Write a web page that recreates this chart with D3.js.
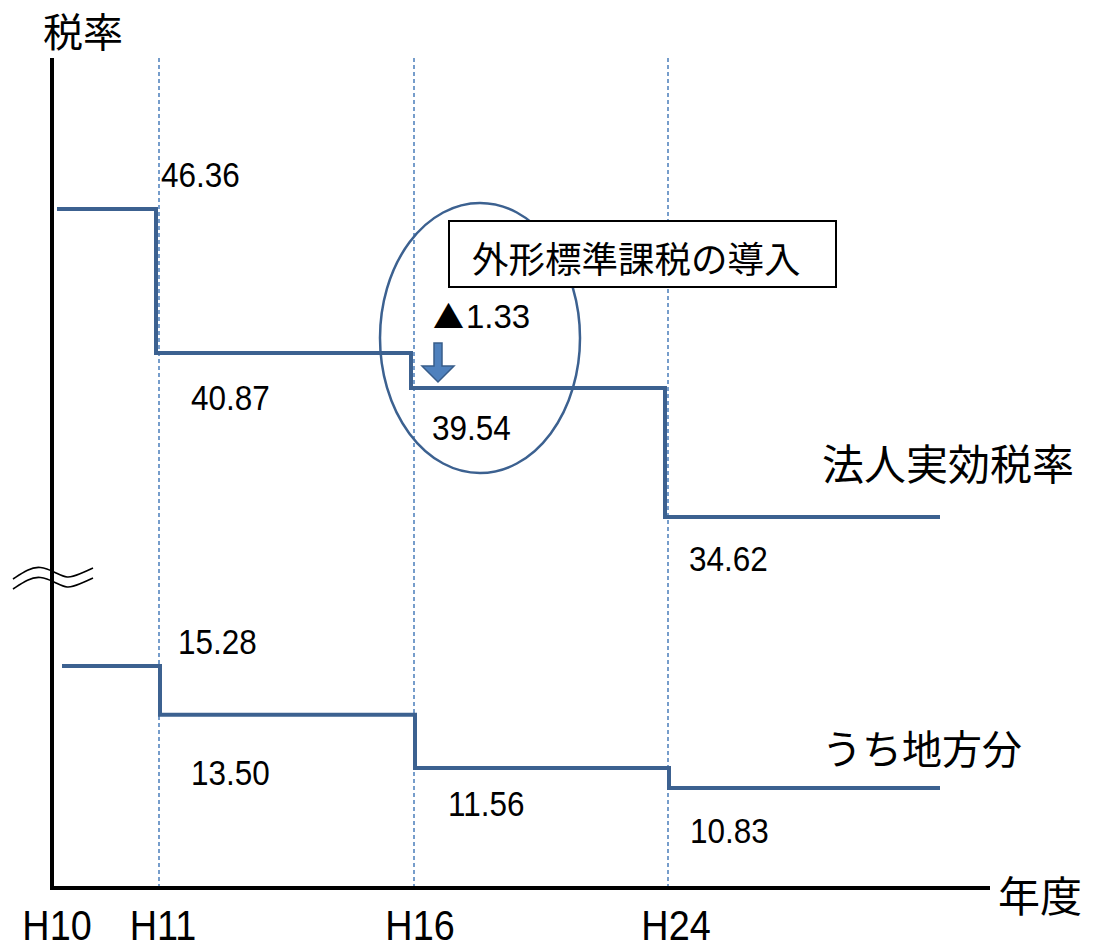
<!DOCTYPE html>
<html lang="ja">
<head>
<meta charset="utf-8">
<script src="https://d3js.org/d3.v7.min.js"></script>
<style>
  html, body { margin: 0; padding: 0; background: #fff; }
  svg { display: block; }
</style>
</head>
<body>
<svg id="chart" width="1093" height="947"></svg>
<script>
// Fiscal-year breakpoints (the last entry closes the final step)
const periods = ["H10", "H11", "H16", "H24", ""];
// 法人実効税率 for each period starting at the breakpoint
const effectiveRate = [46.36, 40.87, 39.54, 34.62];
// うち地方分
const localShare = [15.28, 13.50, 11.56, 10.83];
// Reduction brought by the 外形標準課税 introduction
const reduction = 1.33;

const svg = d3.select("#chart");
const NUM_FONT = "'Liberation Sans', Arial, sans-serif";
const JP_FONT = "'Noto Sans CJK JP', 'Noto Sans', sans-serif";
const LINE = "#3c6190";
const GRID = "#4a7ebb";

// Uneven horizontal spacing between fiscal years
const x = d3.scaleLinear()
  .domain(d3.range(periods.length))
  .range([52, 159, 414, 668, 940]);

// Broken vertical axis: one scale for each band
const yTop = d3.scaleLinear().domain([34.62, 46.36]).range([517, 209]);
const yBot = d3.scaleLinear().domain([10.83, 15.28]).range([788, 666]);

const axisTop = 58, axisBottom = 888;

// Vertical dashed guides at each rate change
svg.append("g").selectAll("line")
  .data(d3.range(1, periods.length - 1))
  .join("line")
  .attr("x1", d => x(d)).attr("x2", d => x(d))
  .attr("y1", axisTop).attr("y2", axisBottom)
  .attr("stroke", GRID).attr("stroke-width", 1.5)
  .attr("stroke-dasharray", "4,3");

// Axes
svg.append("line")
  .attr("x1", x(0)).attr("x2", x(0)).attr("y1", axisTop).attr("y2", axisBottom + 2)
  .attr("stroke", "#000").attr("stroke-width", 4);
svg.append("line")
  .attr("x1", x(0) - 2).attr("x2", 990).attr("y1", axisBottom).attr("y2", axisBottom)
  .attr("stroke", "#000").attr("stroke-width", 4);

// Axis-break mark (two waves across the vertical axis)
const wave = d3.line().curve(d3.curveBasis);
[0, 10].forEach(off => {
  svg.append("path")
    .attr("d", wave([[13, 579 + off], [28, 569 + off], [40, 566 + off], [55, 572 + off],
                     [67, 579 + off], [80, 574 + off], [93, 568 + off]]))
    .attr("fill", "none").attr("stroke", "#000").attr("stroke-width", 1.6);
});

// Step lines
function stepPoints(vals, yScale, startShift, dropShift) {
  const pts = vals.map((v, i) => [i === 0 ? x(i) + startShift : x(i) + dropShift, yScale(v)]);
  pts.push([x(vals.length), yScale(vals[vals.length - 1])]);
  return pts;
}
const stepLine = d3.line().curve(d3.curveStepAfter);
svg.append("path")
  .attr("d", stepLine(stepPoints(effectiveRate, yTop, 5, -3)))
  .attr("fill", "none").attr("stroke", LINE).attr("stroke-width", 4);
svg.append("path")
  .attr("d", stepLine(stepPoints(localShare, yBot, 10, 1)))
  .attr("fill", "none").attr("stroke", LINE).attr("stroke-width", 4);

// Condensed numeric labels
function numText(str, px, py, size, anchor) {
  return svg.append("text")
    .attr("transform", `translate(${px},${py}) scale(0.9,1)`)
    .attr("font-family", NUM_FONT).attr("font-size", size)
    .attr("text-anchor", anchor || "start")
    .attr("fill", "#000")
    .text(str);
}

// Value labels: [dx from breakpoint, dy from step level]
const topLabelOffset = [[2, -22], [32, 57], [18, 52], [21, 54]];
const botLabelOffset = [[19, -12], [32, 70], [34, 48], [22, 55]];
effectiveRate.forEach((v, i) => {
  const bx = i === 0 ? x(1) : x(i);
  numText(v.toFixed(2), bx + topLabelOffset[i][0], yTop(v) + topLabelOffset[i][1], 35);
});
localShare.forEach((v, i) => {
  const bx = i === 0 ? x(1) : x(i);
  numText(v.toFixed(2), bx + botLabelOffset[i][0], yBot(v) + botLabelOffset[i][1], 35);
});

// Year labels
periods.slice(0, 4).forEach((p, i) => {
  numText(p, x(i) + (i === 0 ? 5 : 2 + i * 2), 940, 42, "middle");
});

// Axis titles and series names
function jpText(str, px, py, size) {
  svg.append("text")
    .attr("x", px).attr("y", py)
    .attr("font-family", JP_FONT).attr("font-size", size)
    .attr("fill", "#000")
    .text(str);
}
jpText("税率", 43, 47, 40);
jpText("年度", 998, 912, 42);
jpText("法人実効税率", 822, 480, 42);
jpText("うち地方分", 822, 764, 40);

// Highlight around the H16 change
svg.append("ellipse")
  .attr("cx", 480).attr("cy", 338).attr("rx", 100).attr("ry", 135)
  .attr("fill", "none").attr("stroke", LINE).attr("stroke-width", 2.5);

// Callout box
svg.append("rect")
  .attr("x", 449).attr("y", 221).attr("width", 387).attr("height", 66)
  .attr("fill", "#fff").attr("stroke", "#000").attr("stroke-width", 2);
jpText("外形標準課税の導入", 472, 273, 36.5);

// Reduction annotation
const red = svg.append("text")
  .attr("x", 433).attr("y", 328)
  .attr("fill", "#000");
red.append("tspan")
  .attr("font-family", JP_FONT).attr("font-size", 31)
  .text("▲");
red.append("tspan")
  .attr("font-family", NUM_FONT).attr("font-size", 33)
  .attr("dx", 2)
  .text(reduction.toFixed(2));

// Down arrow marking the drop
const ax = x(2) + 24, aTop = 343, aTip = yTop(effectiveRate[2]) - 6;
svg.append("path")
  .attr("d", `M${ax - 4},${aTop} L${ax + 4},${aTop} L${ax + 4},${aTip - 16} L${ax + 16},${aTip - 16}
              L${ax},${aTip} L${ax - 16},${aTip - 16} L${ax - 4},${aTip - 16} Z`)
  .attr("fill", "#4f81bd").attr("stroke", "#385d8a").attr("stroke-width", 1.5);
</script>
</body>
</html>
